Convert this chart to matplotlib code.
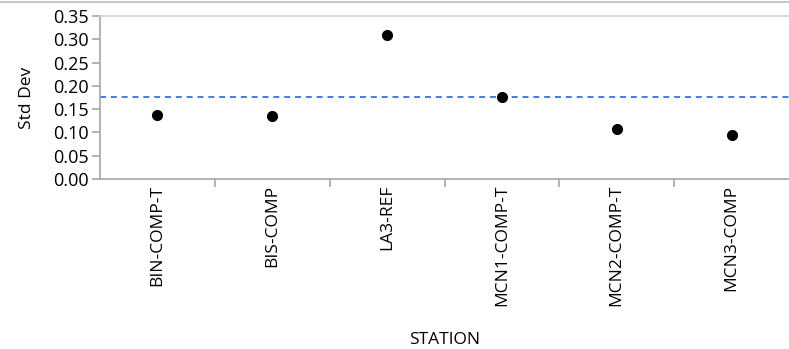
import numpy as np
import matplotlib.pyplot as plt
from matplotlib.lines import Line2D

stations = ["BIN-COMP-T", "BIS-COMP", "LA3-REF", "MCN1-COMP-T", "MCN2-COMP-T", "MCN3-COMP"]
std_dev = [0.137, 0.135, 0.309, 0.176, 0.108, 0.094]
ref_line = 0.176
yticks = [0.00, 0.05, 0.10, 0.15, 0.20, 0.25, 0.30, 0.35]

plt.rcParams['font.family'] = ['Open Sans', 'DejaVu Sans']
grey = "#a6a6a6"

fig = plt.figure(figsize=(7.89, 3.49), dpi=100)
ax = fig.add_axes([100 / 789, 1 - 179 / 349, 689 / 789, 163 / 349])

x = np.arange(len(stations))
ax.plot(x, std_dev, "o", color="black", markersize=7, zorder=3)
ax.axhline(ref_line, color="#3a6ee8", linestyle=(0, (3.3, 2.7)), linewidth=1.3, zorder=2)

ax.set_xlim(-0.5, len(stations) - 0.5)
ax.set_ylim(0, 0.35)
ax.set_yticks(yticks)
ax.set_yticklabels([f"{v:.2f}" for v in yticks], fontsize=13)
ax.set_xticks(x)
ax.set_xticklabels(stations, rotation=90, fontsize=12.5)
ax.tick_params(axis="x", length=0, pad=4)
ax.set_xticks(np.arange(0.5, len(stations) - 0.5), minor=True)
ax.tick_params(axis="x", which="minor", length=6, color=grey, width=1.2)
ax.tick_params(axis="y", length=6, color=grey, width=1.2, pad=2)

for side in ["left", "bottom", "top"]:
    ax.spines[side].set_color(grey)
    ax.spines[side].set_linewidth(1.2)
ax.spines["right"].set_visible(False)
ax.spines["top"].set_color("#d0d0d0")

ax.set_ylabel("Std Dev", fontsize=12.5, labelpad=13)
ax.set_xlabel("STATION", fontsize=12.5, labelpad=19)

fig.add_artist(Line2D([0, 1], [1 - 2 / 349, 1 - 2 / 349], color="#c8c8c8", linewidth=1.5))

fig.savefig("out.png", dpi=100)
